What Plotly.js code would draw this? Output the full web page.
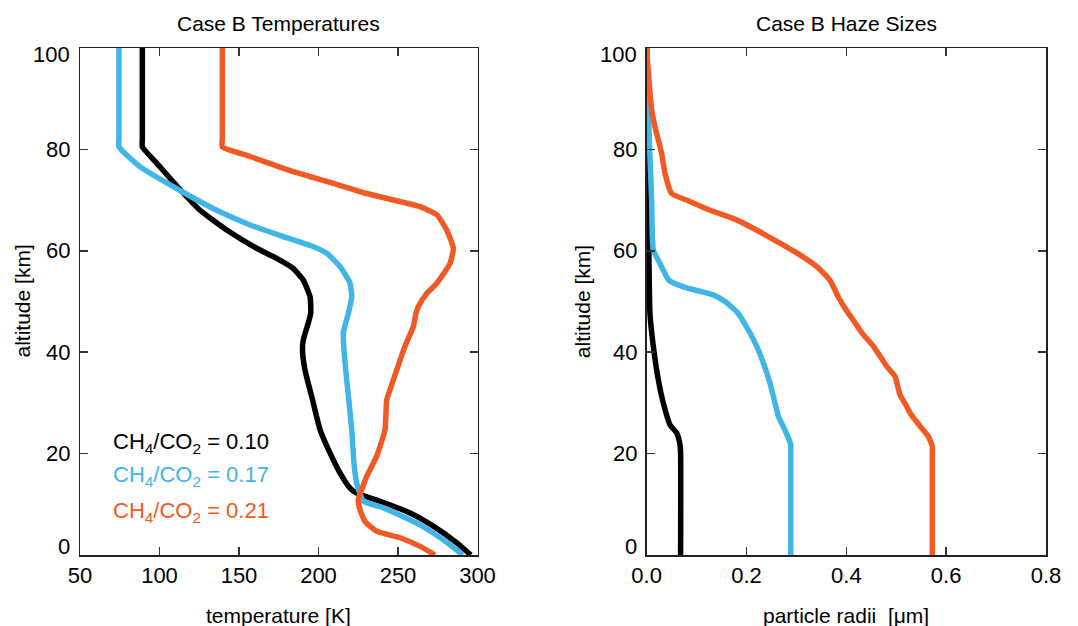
<!DOCTYPE html>
<html>
<head>
<meta charset="utf-8">
<script src="https://cdn.plot.ly/plotly-3.0.1.min.js"></script>
<style>html,body{margin:0;padding:0;background:#fff;}#chart{width:1078px;height:626px;}</style>
</head>
<body>
<div id="chart"></div>
<script>
// ---------- Data ----------
const seriesNames = ["CH<sub>4</sub>/CO<sub>2</sub> = 0.10", "CH<sub>4</sub>/CO<sub>2</sub> = 0.17", "CH<sub>4</sub>/CO<sub>2</sub> = 0.21"];
const seriesColors = ["#000000", "#41b6e6", "#f15a24"];

// Temperature profiles (K) vs altitude (km)
const tempBlackT = [89.2, 89.2, 89.2, 98.2, 114.6, 125.5, 142.3, 161.1, 173.7, 184.2, 190.5, 194.7, 195.1, 193.6, 190.5, 189.9, 191.5, 195.7, 201.0, 207.3, 213.5, 219.8, 224.0, 238.7, 257.6, 272.2, 287.0, 295.8];
const tempBlackZ = [100, 82, 80.5, 77.3, 71.5, 68.0, 64.1, 60.5, 58.5, 56.5, 54.2, 50.9, 47.7, 45.8, 42.5, 40.5, 36.5, 31.3, 24.7, 20.1, 16.2, 13.2, 12.2, 10.6, 8.3, 5.7, 2.4, 0];

const tempBlueT = [74.5, 74.5, 74.5, 87.7, 114.0, 136.0, 157.0, 177.9, 196.8, 205.2, 213.5, 219.8, 220.9, 218.8, 215.6, 216.7, 218.8, 220.9, 222.3, 224.0, 226.1, 228.2, 240.8, 261.8, 278.5, 290.8];
const tempBlueZ = [100, 82, 80.5, 76.6, 71.7, 68.0, 65.1, 62.8, 60.8, 59.5, 56.9, 53.6, 50.9, 47.7, 43.8, 37.9, 31.3, 24.7, 18.1, 14.2, 12.2, 10.6, 9.3, 6.3, 3.0, 0];

const tempOrangeT = [139.5, 139.5, 139.5, 157.0, 184.2, 209.3, 230.3, 251.3, 263.9, 274.4, 280.6, 284.8, 282.7, 274.4, 268.1, 262.8, 261.3, 259.7, 254.4, 249.2, 245.0, 242.9, 241.8, 236.6, 230.3, 227.2, 225.0, 226.1, 229.3, 236.6, 251.3, 263.9, 273.3];
const tempOrangeZ = [100, 82, 80.5, 78.6, 75.6, 73.3, 71.3, 69.7, 68.7, 67.1, 64.1, 60.5, 57.5, 53.6, 51.6, 49.0, 47.7, 45.1, 41.2, 36.5, 32.6, 30.6, 24.7, 19.5, 15.5, 12.9, 10.9, 8.9, 6.6, 4.7, 3.4, 1.7, 0];

// Haze particle radii (um) vs altitude (km)
const hazeBlackR = [0.0, 0.003, 0.0066, 0.0133, 0.0233, 0.0333, 0.0467, 0.060, 0.0667, 0.068, 0.068];
const hazeBlackZ = [100, 75, 47.7, 41.2, 34.6, 30.0, 25.7, 24.1, 21.8, 20.1, 0];

const hazeBlueR = [0.0, 0.005, 0.010, 0.0133, 0.0267, 0.0447, 0.0734, 0.1335, 0.157, 0.183, 0.2036, 0.2204, 0.2337, 0.247, 0.257, 0.2637, 0.277, 0.2886, 0.2886, 0.2886];
const hazeBlueZ = [100, 82.8, 70.0, 60.2, 57.5, 54.2, 52.9, 51.3, 50.0, 47.7, 44.4, 41.2, 37.9, 33.9, 30.0, 27.4, 24.7, 21.8, 20.0, 0];

const hazeOrangeR = [0.0, 0.002, 0.010, 0.0166, 0.030, 0.0367, 0.050, 0.080, 0.127, 0.180, 0.220, 0.267, 0.307, 0.3407, 0.367, 0.384, 0.397, 0.404, 0.4174, 0.431, 0.454, 0.481, 0.4976, 0.5076, 0.521, 0.5276, 0.5477, 0.5643, 0.5723, 0.5723, 0.5723];
const hazeOrangeZ = [100, 97, 87.8, 84.5, 79.2, 75.3, 71.3, 70.0, 68.0, 66.1, 64.1, 61.5, 59.2, 56.9, 54.2, 50.9, 48.7, 47.7, 45.8, 43.8, 41.2, 37.2, 35.2, 31.6, 29.3, 28.0, 25.4, 23.4, 21.4, 20.0, 0];

// Axis ticks and labels
const tempTickVals = [50, 100, 150, 200, 250, 300];
const radiusTickVals = [0.0, 0.2, 0.4, 0.6, 0.8];
const radiusTickText = ["0.0", "0.2", "0.4", "0.6", "0.8"];
const altTickVals = [0, 20, 40, 60, 80, 100];
const panelTitles = ["Case B Temperatures", "Case B Haze Sizes"];
const xTitles = ["temperature [K]", "particle radii&nbsp;&nbsp;[\u03bcm]"];
const yTitle = "altitude [km]";

// ---------- Build ----------
const FONT = "Liberation Sans, Arial, Helvetica, sans-serif";
const LW = 5.5;

const traces = [
  {x: tempBlackT, y: tempBlackZ, xaxis: "x", yaxis: "y", c: 0},
  {x: tempBlueT, y: tempBlueZ, xaxis: "x", yaxis: "y", c: 1},
  {x: tempOrangeT, y: tempOrangeZ, xaxis: "x", yaxis: "y", c: 2},
  {x: hazeBlackR, y: hazeBlackZ, xaxis: "x2", yaxis: "y2", c: 0},
  {x: hazeBlueR, y: hazeBlueZ, xaxis: "x2", yaxis: "y2", c: 1},
  {x: hazeOrangeR, y: hazeOrangeZ, xaxis: "x2", yaxis: "y2", c: 2}
].map(t => ({
  type: "scatter", mode: "lines", x: t.x, y: t.y, xaxis: t.xaxis, yaxis: t.yaxis,
  line: {color: seriesColors[t.c], width: LW, shape: "spline", smoothing: 0.5},
  showlegend: false, hoverinfo: "skip"
}));

const axBase = {
  showgrid: false, zeroline: false, showline: true, linecolor: "#222", linewidth: 1.5,
  mirror: "ticks", ticks: "inside", ticklen: 8, tickwidth: 1.5, tickcolor: "#333",
  tickfont: {family: FONT, size: 22, color: "#000"}, fixedrange: true
};

const annotations = [];
// Panel titles and x-axis titles
[["x domain", 0], ["x2 domain", 1]].forEach(([xr, i]) => {
  annotations.push({xref: xr, yref: "paper", x: 0.5, y: 1, yshift: 25, xanchor: "center", yanchor: "middle",
    text: panelTitles[i], showarrow: false, font: {family: FONT, size: 21, color: "#000"}});
  annotations.push({xref: xr, yref: "paper", x: 0.5, y: 0, yshift: -60, xanchor: "center", yanchor: "middle",
    text: xTitles[i], showarrow: false, font: {family: FONT, size: 21, color: "#000"}});
});
// Y titles
annotations.push({xref: "x domain", yref: "paper", x: 0, y: 0.5, xshift: -58, textangle: -90, xanchor: "center", yanchor: "middle",
  text: yTitle, showarrow: false, font: {family: FONT, size: 21, color: "#000"}});
annotations.push({xref: "x2 domain", yref: "paper", x: 0, y: 0.5, xshift: -64, textangle: -90, xanchor: "center", yanchor: "middle",
  text: yTitle, showarrow: false, font: {family: FONT, size: 21, color: "#000"}});
// Y tick labels (endpoints nudged inside the range like the reference)
["x domain", "x2 domain"].forEach((xr, k) => {
  const yr = k === 0 ? "y" : "y2";
  altTickVals.forEach(v => {
    let ys = 0;
    if (v === 100) ys = -6;
    if (v === 0) ys = 9;
    annotations.push({xref: xr, yref: yr, x: 0, y: v, xshift: -8, yshift: ys, xanchor: "right", yanchor: "middle",
      text: String(v), showarrow: false, font: {family: FONT, size: 22, color: "#000"}});
  });
});
// Legend text
const legendY = [22.1, 15.5, 8.5];
seriesNames.forEach((n, i) => {
  annotations.push({xref: "x", yref: "y", x: 69.5, y: legendY[i], xanchor: "left", yanchor: "middle",
    text: n, showarrow: false, font: {family: FONT, size: 22, color: seriesColors[i]}});
});

const layout = {
  width: 1078, height: 626,
  margin: {l: 80, r: 32, t: 48, b: 71, pad: 0},
  paper_bgcolor: "#fff", plot_bgcolor: "#fff",
  showlegend: false,
  xaxis: Object.assign({}, axBase, {domain: [0, 0.4115], range: [50, 300], tickvals: tempTickVals, anchor: "y"}),
  yaxis: Object.assign({}, axBase, {domain: [0, 1], range: [0, 100], tickvals: altTickVals, showticklabels: false, anchor: "x"}),
  xaxis2: Object.assign({}, axBase, {domain: [0.5866, 1], range: [0, 0.8], tickvals: radiusTickVals, ticktext: radiusTickText, anchor: "y2"}),
  yaxis2: Object.assign({}, axBase, {domain: [0, 1], range: [0, 100], tickvals: altTickVals, showticklabels: false, anchor: "x2"}),
  annotations: annotations
};

Plotly.newPlot("chart", traces, layout, {displayModeBar: false, staticPlot: true});
</script>
</body>
</html>
